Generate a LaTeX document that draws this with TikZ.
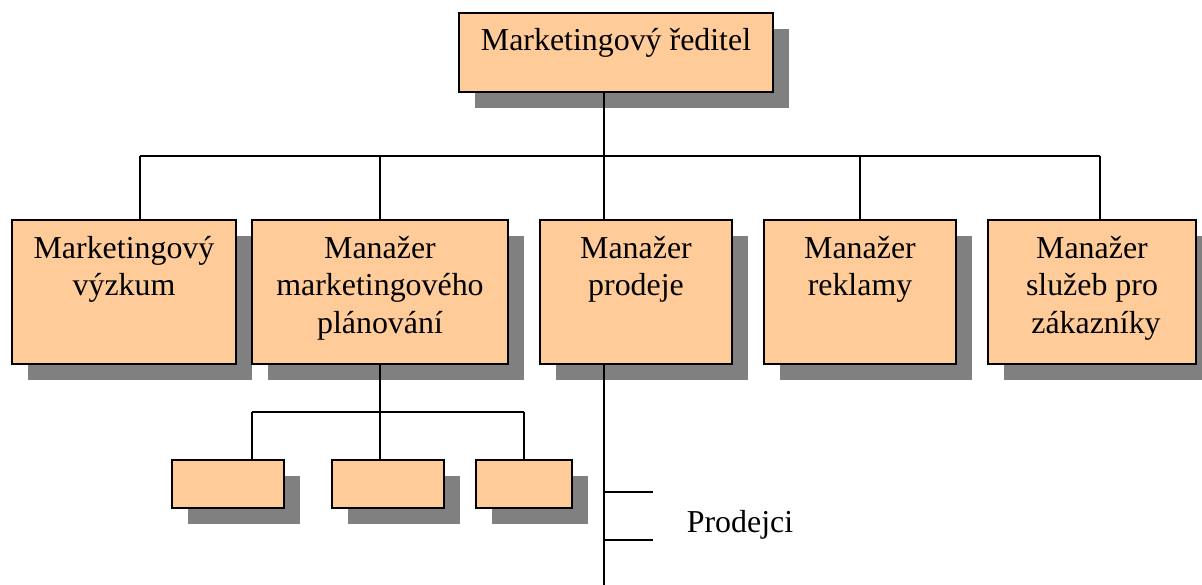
\documentclass[tikz,border=0pt]{standalone}
\usepackage{fontspec}
\setmainfont{Liberation Serif}
\usetikzlibrary{calc,shadows}
\definecolor{boxfill}{HTML}{FFCC99}
\definecolor{shadowgray}{RGB}{128,128,128}
% centred multi-line text whose baseline is that of its first line
\newcommand{\boxlines}[1]{\parbox[t]{260pt}{\centering #1}}

\begin{document}
\begin{tikzpicture}[x=1pt,y=-1pt,
  orgbox/.style={rectangle, draw=black, line width=2pt, fill=boxfill, inner sep=0pt,
    drop shadow={shadow xshift=16pt, shadow yshift=-16pt, fill=shadowgray, opacity=1}},
  boxtext/.style={anchor=base, inner sep=0pt, font=\fontsize{31.9}{37.5}\selectfont},
  link/.style={draw=black, line width=1.7pt}]

\useasboundingbox (0,0) rectangle (1202,585);

% director
\node[orgbox, minimum width=314pt, minimum height=79pt] (dir) at (616,52.5) {};
\node[boxtext] (tdir) at ($(dir.north)+(0,39)$) {Marketingový ředitel};

% managers
\node[orgbox, minimum width=224pt, minimum height=144pt] (b1) at (124,292) {};
\node[orgbox, minimum width=256pt, minimum height=144pt] (b2) at (380,292) {};
\node[orgbox, minimum width=192pt, minimum height=144pt] (b3) at (636,292) {};
\node[orgbox, minimum width=192pt, minimum height=144pt] (b4) at (860,292) {};
\node[orgbox, minimum width=208pt, minimum height=144pt] (b5) at (1092,292) {};

\node[boxtext] (t1) at ($(b1.north)+(0,39.5)$) {\boxlines{Marketingový\\výzkum}};
\node[boxtext] (t2) at ($(b2.north)+(0,39.5)$) {\boxlines{Manažer\\marketingového\\plánování}};
\node[boxtext] (t3) at ($(b3.north)+(0,39.5)$) {\boxlines{Manažer\\prodeje}};
\node[boxtext] (t4) at ($(b4.north)+(0,39.5)$) {\boxlines{Manažer\\reklamy}};
\node[boxtext] (t5) at ($(b5.north)+(0,39.5)$) {\boxlines{Manažer\\služeb pro\\\hspace*{8pt}zákazníky}};

% planning sub-units
\node[orgbox, minimum width=112pt, minimum height=48pt] (s1) at (228,484) {};
\node[orgbox, minimum width=112pt, minimum height=48pt] (s2) at (388,484) {};
\node[orgbox, minimum width=96pt, minimum height=48pt] (s3) at (524,484) {};

% sales staff label
\node[boxtext] (prod) at (740,532) {Prodejci};

% connectors: director to managers
\coordinate (bus) at (604,156);
\coordinate (busl) at (140,156);
\coordinate (busr) at (1100,156);
\draw[link] (dir.south -| bus) -- (bus);
\draw[link] (busl) -- (busr);
\draw[link] (busl) -- (busl |- b1.north);
\draw[link] (bus -| b2.north) -- (b2.north);
\draw[link] (bus) -- (bus |- b3.north);
\draw[link] (bus -| b4.north) -- (b4.north);
\draw[link] (busr) -- (busr |- b5.north);

% connectors: planning manager to sub-units
\coordinate (sbus) at (380,412);
\coordinate (sbusl) at (252,412);
\coordinate (sbusr) at (524,412);
\draw[link] (b2.south) -- (sbus);
\draw[link] (sbusl) -- (sbusr);
\draw[link] (sbusl) -- (sbusl |- s1.north);
\draw[link] (sbus) -- (sbus |- s2.north);
\draw[link] (sbusr) -- (s3.north);

% sales line with staff ticks
\coordinate (pend) at (604,585);
\coordinate (tick1) at (653,492);
\coordinate (tick2) at (653,540);
\draw[link] (b3.south -| pend) -- (pend);
\draw[link] (tick1 -| pend) -- (tick1);
\draw[link] (tick2 -| pend) -- (tick2);
\end{tikzpicture}
\end{document}
